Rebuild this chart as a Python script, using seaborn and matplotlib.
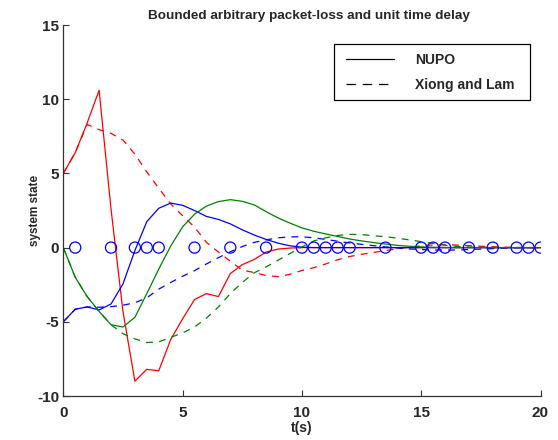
import numpy as np
import pandas as pd
import matplotlib
matplotlib.use("Agg")
import matplotlib.pyplot as plt
from matplotlib.lines import Line2D
from matplotlib.patches import Rectangle
import seaborn as sns

# Sampling instants (s)
t = np.arange(0, 20.01, 0.5)

# State trajectories, NUPO controller
x1_nupo = [5.0, 6.4, 8.4, 10.6, 2.6, -4.3, -9.0, -8.2, -8.3, -6.2, -4.8, -3.5, -3.1, -3.3,
           -1.75, -1.15, -0.8, -0.3, -0.1, -0.03, 0.0] + [0.0] * 20
x2_nupo = [-5.0, -4.15, -4.0, -4.2, -3.8, -2.45, -0.2, 1.75, 2.65, 3.0, 2.85, 2.5, 2.1, 1.9,
           1.6, 1.2, 0.85, 0.55, 0.3, 0.12, 0.03] + [0.0] * 20
x3_nupo = [0.0, -2.0, -3.3, -4.3, -5.2, -5.35, -4.7, -3.1, -1.45, 0.1, 1.4, 2.25, 2.8, 3.1,
           3.23, 3.12, 2.88, 2.42, 2.0, 1.65, 1.33, 1.1, 0.92, 0.75, 0.58, 0.45, 0.34, 0.24,
           0.15, 0.09, 0.05, 0.02, 0.01, 0.0, 0.0, 0.0, 0.0, 0.0, 0.0, 0.0, 0.0]

# State trajectories, Xiong and Lam controller
x1_xl = [5.0, 6.4, 8.3, 7.95, 7.7, 7.25, 6.3, 5.1, 4.0, 2.95, 2.15, 1.38, 0.35, -0.3, -0.92,
         -1.52, -1.68, -1.88, -1.96, -1.8, -1.54, -1.35, -1.1, -0.82, -0.6, -0.45, -0.33,
         -0.2, -0.08, 0.03, 0.12, 0.18, 0.2, 0.17, 0.13, 0.09, 0.06, 0.03, 0.01, 0.0, 0.0]
x2_xl = [-5.0, -4.15, -4.0, -4.02, -3.98, -3.88, -3.72, -3.38, -2.8, -2.35, -1.93, -1.55,
         -1.1, -0.68, -0.28, 0.07, 0.35, 0.52, 0.66, 0.72, 0.73, 0.66, 0.55, 0.43, 0.31,
         0.22, 0.13, 0.05, -0.03, -0.09, -0.13, -0.16, -0.17, -0.16, -0.13, -0.1, -0.07,
         -0.04, -0.02, -0.01, 0.0]
x3_xl = [0.0, -2.0, -3.3, -4.3, -5.2, -5.8, -6.15, -6.4, -6.35, -6.05, -5.75, -5.35, -4.75,
         -4.0, -3.1, -2.35, -1.7, -1.3, -0.85, -0.4, 0.05, 0.45, 0.66, 0.82, 0.89, 0.88,
         0.8, 0.73, 0.64, 0.52, 0.4, 0.28, 0.16, 0.08, 0.04, 0.02, 0.01, 0.0, 0.0, 0.0, 0.0]

# Instants at which packets were lost
loss_t = [0.5, 2, 3, 3.5, 4, 5.5, 7, 8.5, 10, 10.5, 11, 11.5, 12, 13.5, 15, 15.5, 16, 17,
          18, 19, 19.5, 20]

methods = ["NUPO", "Xiong and Lam"]
states = ["x1", "x2", "x3"]

frames = []
for method, series in zip(methods, [(x1_nupo, x2_nupo, x3_nupo), (x1_xl, x2_xl, x3_xl)]):
    for state, vals in zip(states, series):
        frames.append(pd.DataFrame({"t": t, "value": vals, "state": state, "method": method}))
df = pd.concat(frames, ignore_index=True)
loss_df = pd.DataFrame({"t": loss_t, "value": np.zeros(len(loss_t))})

sns.set_theme(style="white")
plt.rcParams["font.family"] = ["Liberation Sans", "DejaVu Sans"]
plt.rcParams["font.weight"] = "bold"
plt.rcParams["axes.unicode_minus"] = False

fig = plt.figure(figsize=(5.58, 4.40), dpi=100)
ax = fig.add_axes([63.3 / 558, 44 / 440, (540.5 - 63.3) / 558, (396 - 25) / 440])

palette = {"x1": "#ff0000", "x2": "#0000ff", "x3": "#008000"}
dash_pat = (5.5, 5.0)
dash_map = {"NUPO": "", "Xiong and Lam": dash_pat}
sns.lineplot(data=df, x="t", y="value", hue="state", style="method", palette=palette,
             dashes=dash_map, estimator=None, sort=False, linewidth=0.9, legend=False, ax=ax)

sns.scatterplot(data=loss_df, x="t", y="value", marker="o", s=64, facecolors="none",
                edgecolor="#0000ff", linewidth=0.9, legend=False, ax=ax, zorder=5)

ax.set_xlim(0, 20)
ax.set_ylim(-10, 15)
ax.set_xticks([0, 5, 10, 15, 20])
ax.set_yticks([-10, -5, 0, 5, 10, 15])
ax.tick_params(direction="in", length=4, width=0.8, color="#333333", labelsize=11,
               bottom=True, left=True)
ax.tick_params(axis="x", pad=7)
ax.tick_params(axis="y", pad=3)
for lab in ax.get_xticklabels() + ax.get_yticklabels():
    lab.set_fontweight("bold")
for side in ["top", "right"]:
    ax.spines[side].set_visible(False)
for side in ["left", "bottom"]:
    ax.spines[side].set_color("#333333")
    ax.spines[side].set_linewidth(0.9)

ax.set_xlabel("t(s)", fontsize=10, fontweight="bold", labelpad=1)
ax.set_ylabel("system state", fontsize=8.5, fontweight="bold")
ax.yaxis.set_label_coords(-0.047, 0.5)
ax.set_title("Bounded arbitrary packet-loss and unit time delay", fontsize=9.7,
             fontweight="bold", pad=4, x=0.515)

# Legend: black line-style samples inside a plain rectangular frame
handles = [Line2D([0], [0], color="black", lw=0.9, linestyle="-"),
           Line2D([0], [0], color="black", lw=0.9, linestyle=(0, (7.5, 5.5)))]
leg = ax.legend(handles, methods, loc="upper left", bbox_to_anchor=(0.593, 0.925),
                frameon=False, prop={"size": 10, "weight": "bold"}, handlelength=3.4,
                handletextpad=1.55, borderpad=0, labelspacing=0.78, borderaxespad=0)
ax.add_patch(Rectangle((0.567, 0.798), 0.411, 0.151, transform=ax.transAxes,
                       facecolor="white", edgecolor="black", linewidth=0.9, zorder=6))
leg.set_zorder(7)

fig.savefig("out.png", dpi=100)
